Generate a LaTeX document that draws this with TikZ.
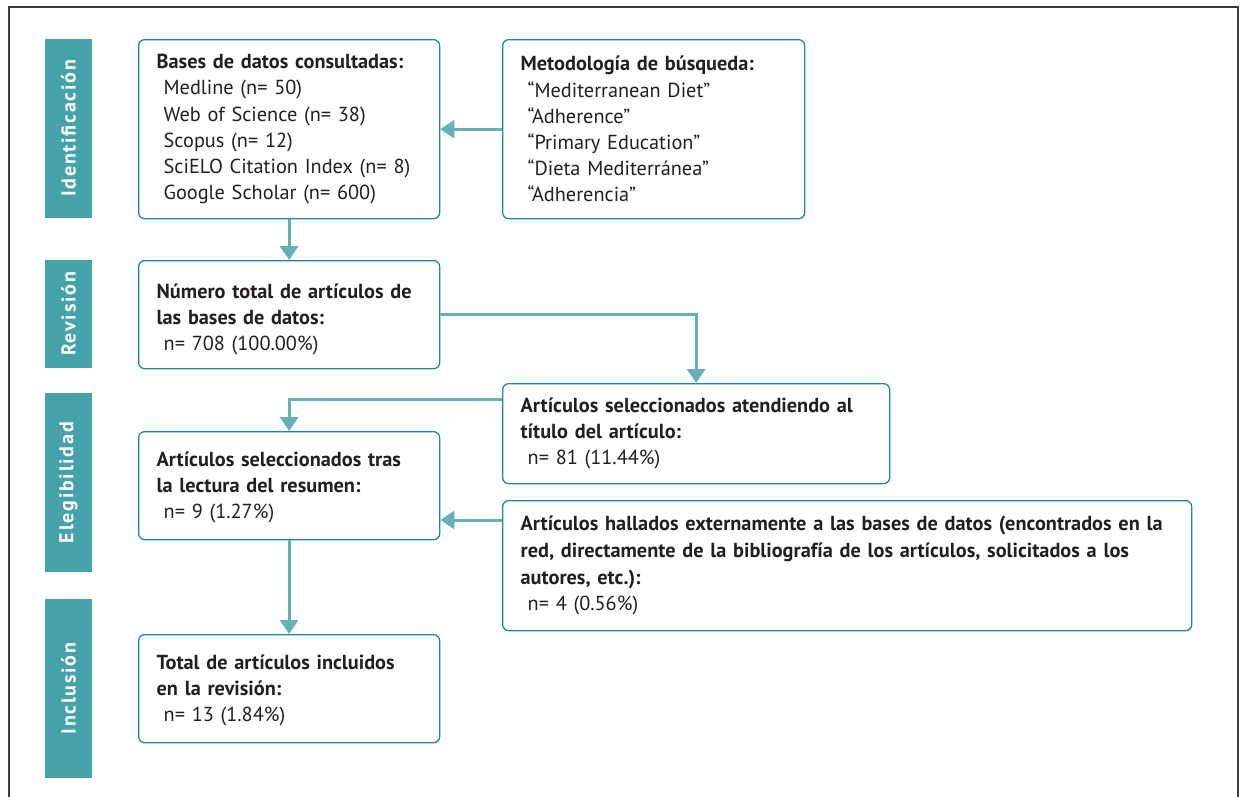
\documentclass[tikz,border=0pt]{standalone}
\usepackage{fontspec}
\setmainfont{PT Sans}
\usetikzlibrary{arrows.meta}
\definecolor{boxc}{HTML}{1E8A94}
\definecolor{arrc}{HTML}{66B1B8}
\definecolor{sidec}{HTML}{45A2A9}
\definecolor{txtc}{HTML}{231F20}
\definecolor{framec}{HTML}{3A3A3A}
\tikzset{
  flowbox/.style={draw=boxc, line width=1.3pt, rounded corners=6pt, fill=white,
    inner xsep=18pt, inner ysep=0pt, align=left, anchor=north west,
    font=\fontsize{20.3}{26.2}\selectfont, text=txtc},
  sidebox/.style={fill=sidec, text=white, rotate=90, inner sep=0pt,
    minimum height=47pt, font=\fontsize{20}{22}\selectfont\bfseries\addfontfeature{LetterSpace=9}},
  arr/.style={draw=arrc, line width=3pt, -{Triangle[width=18pt,length=14pt]}},
}
\newcommand{\ind}{\hspace*{7pt}}
\begin{document}
\begin{tikzpicture}[x=1pt,y=-1pt]
\useasboundingbox (0,0) rectangle (1243,796);
\begin{scope}
\clip (0,0) rectangle (1243,796);
\draw[framec, line width=1.3pt] (9,7) rectangle (1238,820);
\end{scope}

% side labels
\node[sidebox, minimum width=179pt] (sid1) at (68.5,128.5) {Identificación};
\node[sidebox, minimum width=108pt] (sid2) at (68.5,314) {Revisión};
\node[sidebox, minimum width=179pt] (sid3) at (68.5,482.5) {Elegibilidad};
\node[sidebox, minimum width=179pt] (sid4) at (68.5,688.5) {Inclusión};

% boxes
\node[flowbox, minimum width=301pt, minimum height=179pt, text width=265pt] (bases) at (138,39)
 {\textbf{Bases de datos consultadas:}\\
  \ind Medline (n= 50)\\
  \ind Web of Science (n= 38)\\
  \ind Scopus (n= 12)\\
  \ind SciELO Citation Index (n= 8)\\
  \ind Google Scholar (n= 600)};
\node[flowbox, minimum width=302pt, minimum height=179pt, text width=266pt] (metod) at (502,39)
 {\textbf{Metodología de búsqueda:}\\
  \ind “Mediterranean Diet”\\
  \ind “Adherence”\\
  \ind “Primary Education”\\
  \ind “Dieta Mediterránea”\\
  \ind “Adherencia”};
\node[flowbox, minimum width=301pt, minimum height=108pt, text width=265pt] (numero) at (138,260)
 {\rule{0pt}{24pt}\textbf{Número total de artículos de}\\
  \textbf{las bases de datos:}\\
  \ind n= 708 (100.00\%)};
\node[flowbox, minimum width=387pt, minimum height=100pt, text width=351pt] (atend) at (502,383)
 {\textbf{Artículos seleccionados atendiendo al}\\
  \textbf{título del artículo:}\\
  \ind n= 81 (11.44\%)};
\node[flowbox, minimum width=301pt, minimum height=108pt, text width=265pt] (lectura) at (138,431)
 {\rule{0pt}{18pt}\textbf{Artículos seleccionados tras}\\
  \textbf{la lectura del resumen:}\\
  \ind n= 9 (1.27\%)};
\node[flowbox, minimum width=689pt, minimum height=130pt, text width=653pt,
      font=\fontsize{20.3}{26.7}\selectfont] (hallados) at (502,500)
 {\textbf{Artículos hallados externamente a las bases de datos (encontrados en la}\\
  \textbf{red, directamente de la bibliografía de los artículos, solicitados a los}\\
  \textbf{autores, etc.):}\\
  \ind n= 4 (0.56\%)};
\node[flowbox, minimum width=301pt, minimum height=108pt, text width=265pt] (total) at (138,634)
 {\rule{0pt}{18pt}\textbf{Total de artículos incluidos}\\
  \textbf{en la revisión:}\\
  \ind n= 13 (1.84\%)};

% connectors
\draw[arr] (metod.west) -- (bases.east);
\draw[arr] (bases.south) -- (numero.north);
\draw[arr] (numero.east) -| (atend.north);
\coordinate (astart) at ([yshift=-16pt]atend.north west);
\draw[arr] (astart) -| (lectura.north);
\coordinate (hstart) at ([yshift=-20pt]hallados.north west);
\draw[arr] (hstart) -- (hstart -| lectura.east);
\draw[arr] (lectura.south) -- (total.north);
\end{tikzpicture}
\end{document}
